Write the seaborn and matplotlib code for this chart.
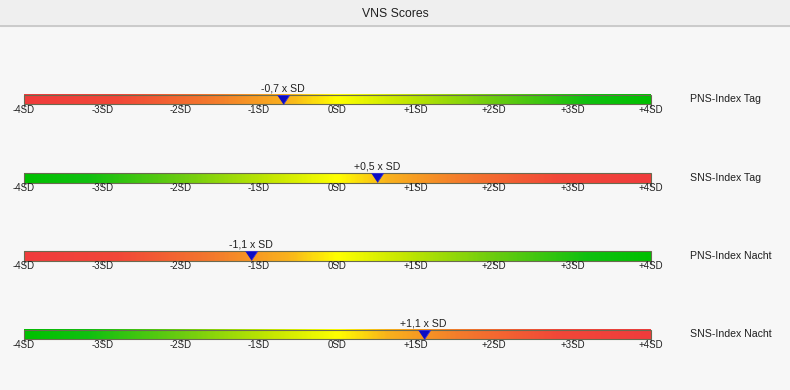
"""VNS scores: SD position of the four indices on colour bars"""

import numpy as np
import pandas as pd
import matplotlib
matplotlib.use("Agg")
import matplotlib.pyplot as plt
from matplotlib.colors import LinearSegmentedColormap
import seaborn as sns


index_labels = ["PNS-Index Tag", "SNS-Index Tag", "PNS-Index Nacht", "SNS-Index Nacht"]
sd_values = [-0.7, 0.5, -1.1, 1.1]
value_texts = ["-0,7 x SD", "+0,5 x SD", "-1,1 x SD", "+1,1 x SD"]
green_left = [False, True, False, True]
tick_values = [-4, -3, -2, -1, 0, 1, 2, 3, 4]
tick_labels = ["-4SD", "-3SD", "-2SD", "-1SD", "0SD", "+1SD", "+2SD", "+3SD", "+4SD"]

# layout in pixels
W, H = 790, 390
bar_left_px, bar_right_px = 24, 651
px_per_sd = (bar_right_px - bar_left_px) / 8
row_top = 99.5
row_step = 78.3
bar_h = 9.5

sns.set_theme(style="white", rc={"axes.facecolor": "#f7f7f7", "figure.facecolor": "#f7f7f7"})
plt.rcParams["font.family"] = ["Liberation Sans", "DejaVu Sans"]

stops = [(0.0, "#f03c3c"), (0.15, "#f24838"), (0.3, "#f47a2c"), (0.42, "#f9b21c"),
         (0.5, "#ffff00"), (0.6, "#c8e800"), (0.75, "#6ccc10"), (0.9, "#10c010"),
         (1.0, "#00c000")]
cmap = LinearSegmentedColormap.from_list("vns", stops)
grad = np.linspace(0, 1, 400).reshape(1, -1)

fig = plt.figure(figsize=(W / 100, H / 100), dpi=100)
ax = fig.add_axes([0, 0, 1, 1])
x_lo = -4 - bar_left_px / px_per_sd
x_hi = -4 + (W - bar_left_px) / px_per_sd
ax.set_xlim(x_lo, x_hi)
ax.set_ylim(H, 0)
ax.axis("off")

# header band
ax.axhspan(0, 26, color="#efefef", zorder=0)
ax.axhline(26, color="#c4c4c4", lw=1.2, zorder=1)
ax.text(0.5, 1 - 14 / H, "VNS Scores", transform=ax.transAxes, ha="center", va="center",
        fontsize=8.8, color="#202020")

centers = [row_top + i * row_step for i in range(len(index_labels))]

for i, c in enumerate(centers):
    top, bot = c - bar_h / 2, c + bar_h / 2
    g = grad[:, ::-1] if green_left[i] else grad
    ax.imshow(g, cmap=cmap, aspect="auto", extent=[-4, 4, bot, top], zorder=2,
              interpolation="bilinear")
    ax.add_patch(plt.Rectangle((-4, top), 8, bar_h, fill=False, ec="#6a6a50", lw=0.8, zorder=3))
    ax.vlines(tick_values, bot, bot + 3, color="#606060", lw=0.8, zorder=3)
    for t, lab in zip(tick_values, tick_labels):
        ax.text(t, bot + 5.5, lab, ha="center", va="center", fontsize=6.9, color="#202020")
    ax.text(4.5, c, index_labels[i], ha="left", va="center", fontsize=7.6, color="#202020")
    ax.text(sd_values[i], top - 6.5, value_texts[i], ha="center", va="center",
            fontsize=7.6, color="#202020")

marker_df = pd.DataFrame({"sd": sd_values,
                          "y": [c - bar_h / 2 for c in centers]})
tri = [(-0.667, 0), (0.667, 0), (0, -1)]
sns.scatterplot(data=marker_df, x="sd", y="y", ax=ax, marker=tri, s=169,
                color="#0c0cc4", edgecolor="#3030e0", linewidth=0.6, zorder=5, legend=False)
ax.set_xlim(x_lo, x_hi)
ax.set_ylim(H, 0)

fig.savefig("out.png", dpi=100)
plt.close(fig)
